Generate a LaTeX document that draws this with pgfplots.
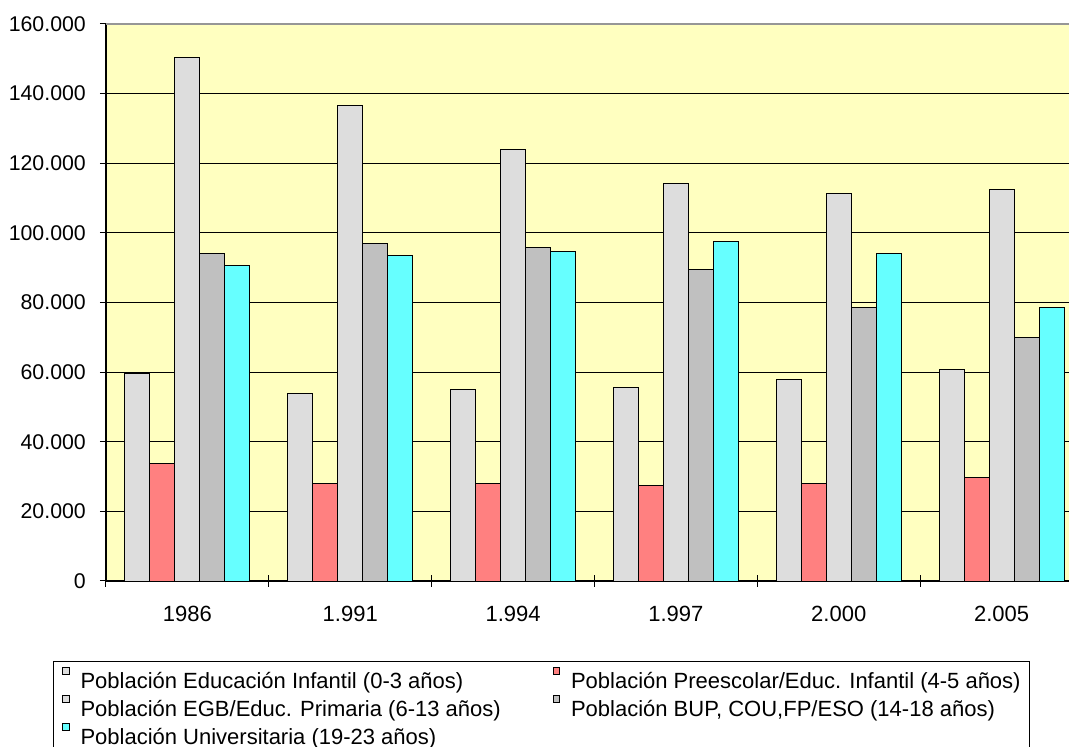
\documentclass[border=0pt]{standalone}
\usepackage{fontspec}
\setmainfont{Liberation Sans}
\usepackage{pgfplots}
\pgfplotsset{compat=1.18}
\definecolor{cInf}{RGB}{221,221,221}
\definecolor{cPre}{RGB}{255,128,128}
\definecolor{cEGB}{RGB}{221,221,221}
\definecolor{cBUP}{RGB}{192,192,192}
\definecolor{cUni}{RGB}{102,255,255}
\definecolor{cBg}{RGB}{255,255,192}
\begin{document}
\begin{tikzpicture}
\path[use as bounding box] (0,0) rectangle (1069pt,747pt);
\begin{axis}[
  at={(106pt,166pt)}, anchor=south west,
  scale only axis, width=977pt, height=557pt,
  font=\fontsize{22}{26}\selectfont,
  /pgf/number format/assume math mode=true,
  ybar=0pt, bar width=25pt,
  xmin=-0.5, xmax=5.5, ymin=0, ymax=160000,
  xtick={-0.5,0.5,...,5.5},
  xticklabels={},
  extra x ticks={0,1,2,3,4,5},
  extra x tick labels={1986,1.991,1.994,1.997,2.000,2.005},
  extra x tick style={major tick length=0pt, tick style={draw=none}},
  ytick={0,20000,...,160000},
  x tick style={black, line width=1pt},
  y tick style={black, line width=1pt},
  major tick length=12pt,
  tick align=center,
  scaled y ticks=false,
  yticklabel style={/pgf/number format/fixed, /pgf/number format/1000 sep={.}, anchor=east, inner sep=0pt, xshift=-14pt, font=\fontsize{21.3}{25}\selectfont},
  xticklabel style={anchor=base, inner sep=0pt, yshift=-41pt},
  axis x line*=bottom, axis y line*=left,
  axis line style={black, line width=1.2pt},
  ymajorgrids, grid style={black, line width=0.8pt},
  axis background/.style={fill=cBg},
  every axis plot/.append style={draw=black, line width=0.9pt},
  legend columns=2,
  legend cell align=left,
  legend image code/.code={\draw[#1, draw=black, line width=0.9pt, overlay] (0.4pt,8pt) rectangle (7pt,14.8pt);},
  legend style={at={(rel axis cs:-0.05455,-0.1431)}, anchor=north west,
    draw=black, line width=1pt, fill=white,
    font=\fontsize{22}{26}\selectfont,
    inner xsep=9pt, inner ysep=10.8pt,
    row sep=7pt,
    nodes={inner sep=0pt, text height=16pt, text depth=5pt},
    /tikz/every odd column/.append style={column sep=18.3pt},
    /tikz/every even column/.append style={column sep=52pt}},
]
\addplot[fill=cInf] coordinates {(0,59700) (1,53800) (2,55000) (3,55500) (4,57800) (5,60700)};
\addplot[fill=cPre] coordinates {(0,33700) (1,27900) (2,27900) (3,27400) (4,27900) (5,29700)};
\addplot[fill=cEGB] coordinates {(0,150300) (1,136500) (2,123900) (3,114100) (4,111300) (5,112400)};
\addplot[fill=cBUP] coordinates {(0,94000) (1,96900) (2,95800) (3,89400) (4,78500) (5,69900)};
\addplot[fill=cUni] coordinates {(0,90600) (1,93500) (2,94600) (3,97500) (4,94000) (5,78500)};
\legend{Población Educación Infantil (0-3 años),Población Preescolar/Educ. Infantil (4-5 años),Población EGB/Educ. Primaria (6-13 años),{Población BUP, COU,FP/ESO (14-18 años)},Población Universitaria (19-23 años)}
\draw[color={rgb,255:red,150;green,150;blue,150}, line width=1.5pt] (rel axis cs:0,1) -- (rel axis cs:1,1);
\end{axis}
\end{tikzpicture}
\end{document}
